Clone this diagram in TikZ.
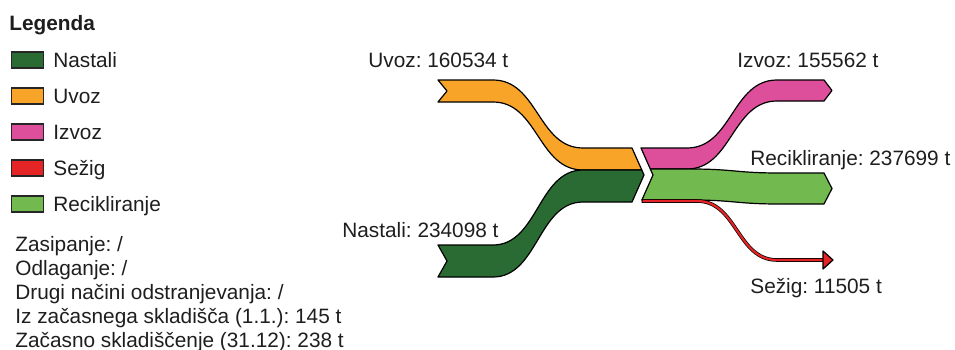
\documentclass[tikz,border=0pt]{standalone}
\usepackage{fontspec}
\setmainfont{Liberation Sans}
\usetikzlibrary{positioning}
\definecolor{nastali}{HTML}{2A6B33}
\definecolor{uvoz}{HTML}{F7A428}
\definecolor{izvoz}{HTML}{DD4F9A}
\definecolor{sezig}{HTML}{E42425}
\definecolor{reci}{HTML}{72BA50}
\definecolor{ink}{HTML}{1E1E1E}
\frenchspacing

\begin{document}
\begin{tikzpicture}[x=0.5pt, y=-0.5pt,
  txt/.style={inner sep=0pt, text=ink, font=\fontsize{10.4}{12}\selectfont, anchor=base west},
  band/.style={draw=black, line width=0.6pt, line join=round},
  legbox/.style={draw=black!85, line width=0.8pt, minimum width=16pt, minimum height=8pt, inner sep=0pt}]
  \useasboundingbox (0,0) rectangle (955,349);
  % legend
  \node[txt, font=\fontsize{10.4}{12}\selectfont\bfseries] (legenda) at (9,30) {Legenda};
  \foreach \name/\col/\y [count=\i] in {Nastali/nastali/60, Uvoz/uvoz/96, Izvoz/izvoz/132, Sežig/sezig/168, Recikliranje/reci/204} {
    \node[legbox, fill=\col] (box\i) at (27.5,\y) {};
    \node[txt] (leg\i) at (53,\y+7) {\name};
  }
  \foreach \t [count=\i] in {Zasipanje: /, Odlaganje: /, Drugi načini odstranjevanja: /,
      Iz začasnega skladišča (1.1.): 145 t, Začasno skladiščenje (31.12): 238 t} {
    \node[txt] (note\i) at (15,227+24*\i) {\t};
  }
  % inflows
  \draw[band, fill=uvoz] (438,80) -- (493,80) .. controls (538,80) and (538,148) .. (583,148)
    -- (632,148) -- (641.8,170) -- (583,170) .. controls (538,170) and (538,102) .. (493,102)
    -- (438,102) -- (447,91) -- cycle;
  \draw[band, fill=nastali] (438,245) -- (493,245) .. controls (538,245) and (538,170) .. (583,170)
    -- (641.8,170) -- (644,175) -- (632,202) -- (583,202) .. controls (538,202) and (538,277) .. (493,277)
    -- (438,277) -- (447,261) -- cycle;
  % outflows
  \draw[band, fill=izvoz] (641,148) -- (687,148) .. controls (732,148) and (732,80) .. (777,80)
    -- (824,80) -- (832,90.5) -- (824,101) -- (777,101) .. controls (732,101) and (732,169) .. (687,169)
    -- (650.3,169) -- cycle;
  \draw[band, fill=reci] (650.3,169) -- (653,175) -- (641.9,200) -- (690,200)
    .. controls (735,200) and (735,204) .. (780,204) -- (824,204) -- (832,188.5) -- (824,173)
    -- (780,173) .. controls (735,173) and (735,169) .. (690,169) -- cycle;
  \draw[black, line width=1.8pt] (641.5,201) -- (697,201) .. controls (737,201) and (737,260) .. (777,260) -- (824,260);
  \draw[sezig, line width=1.1pt] (642.5,201) -- (697,201) .. controls (737,201) and (737,260) .. (777,260) -- (825,260);
  \draw[band, fill=sezig] (823,251) -- (833,260) -- (823,269) -- cycle;
  % labels
  \node[txt] (uvozlabel) at (368,67) {Uvoz: 160534 t};
  \node[txt] (nastalilabel) at (342,237) {Nastali: 234098 t};
  \node[txt] (izvozlabel) at (737,67) {Izvoz: 155562 t};
  \node[txt] (recilabel) at (750,165) {Recikliranje: 237699 t};
  \node[txt] (seziglabel) at (750,293) {Sežig: 11505 t};
\end{tikzpicture}
\end{document}
